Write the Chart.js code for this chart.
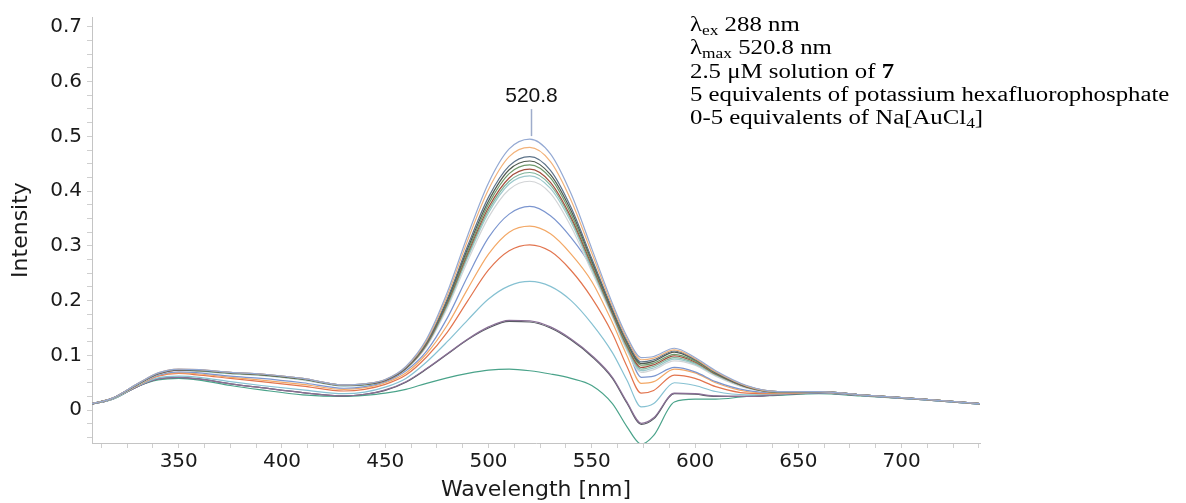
<!DOCTYPE html>
<html>
<head>
<meta charset="utf-8">
<title>Emission titration</title>
<script src="https://cdn.jsdelivr.net/npm/chart.js@4.4.0/dist/chart.umd.min.js"></script>
<style>
  body { margin: 0; background: #fff; }
  #wrap { position: relative; width: 1186px; height: 503px; }
  #conditions {
    position: absolute; left: 690px; top: 13px;
    font-family: "Liberation Serif", "Times New Roman", serif;
    font-size: 20px; line-height: 23.3px; color: #000; white-space: nowrap;
    transform: scaleX(1.24); transform-origin: 0 0;
  }
  #conditions sub { font-size: 14px; vertical-align: -4px; line-height: 0; }
</style>
</head>
<body>
<div id="wrap">
  <canvas id="spectra" width="1186" height="503"></canvas>
  <div id="conditions">
    <div>λ<sub>ex</sub> 288 nm</div>
    <div>λ<sub>max</sub> 520.8 nm</div>
    <div>2.5 μM solution of <b>7</b></div>
    <div>5 equivalents of potassium hexafluorophosphate</div>
    <div>0-5 equivalents of Na[AuCl<sub>4</sub>]</div>
  </div>
</div>
<script>
// emission wavelengths (nm)
var wavelengths = [308, 318, 330, 340, 350, 360, 375, 390, 410, 430,
                   440, 450, 460, 470, 480, 490, 500, 510, 520, 530, 540, 550, 560, 567, 574, 580,
                   590, 600, 610, 625, 640, 660, 680, 710, 738];

// intensity of each titration step, 0 -> 5 equivalents
var step01 = [0.012, 0.022, 0.048, 0.068, 0.075, 0.074, 0.069, 0.066, 0.058, 0.046,
              0.048, 0.056, 0.080, 0.130, 0.215, 0.320, 0.415, 0.477, 0.495, 0.468, 0.395, 0.295, 0.195, 0.135, 0.096, 0.098,
              0.113, 0.096, 0.072, 0.045, 0.034, 0.034, 0.028, 0.020, 0.012];
var step02 = [0.012, 0.022, 0.048, 0.068, 0.075, 0.074, 0.069, 0.066, 0.058, 0.046,
              0.048, 0.056, 0.079, 0.127, 0.209, 0.311, 0.403, 0.463, 0.480, 0.454, 0.383, 0.287, 0.190, 0.131, 0.092, 0.095,
              0.110, 0.094, 0.070, 0.044, 0.034, 0.034, 0.028, 0.020, 0.012];
var step03 = [0.012, 0.022, 0.048, 0.067, 0.074, 0.073, 0.069, 0.066, 0.058, 0.046,
              0.048, 0.055, 0.078, 0.124, 0.203, 0.301, 0.389, 0.446, 0.463, 0.438, 0.370, 0.277, 0.185, 0.127, 0.088, 0.092,
              0.108, 0.093, 0.069, 0.044, 0.034, 0.034, 0.028, 0.020, 0.012];
var step04 = [0.012, 0.022, 0.047, 0.067, 0.074, 0.073, 0.068, 0.065, 0.057, 0.046,
              0.047, 0.055, 0.077, 0.123, 0.200, 0.296, 0.382, 0.439, 0.455, 0.430, 0.364, 0.273, 0.182, 0.124, 0.085, 0.089,
              0.106, 0.092, 0.068, 0.043, 0.034, 0.034, 0.028, 0.020, 0.012];
var step05 = [0.012, 0.022, 0.047, 0.067, 0.074, 0.072, 0.068, 0.065, 0.057, 0.045,
              0.047, 0.055, 0.077, 0.122, 0.198, 0.291, 0.376, 0.432, 0.448, 0.424, 0.358, 0.269, 0.180, 0.121, 0.082, 0.086,
              0.102, 0.090, 0.067, 0.043, 0.033, 0.034, 0.028, 0.020, 0.012];
var step06 = [0.012, 0.022, 0.047, 0.066, 0.073, 0.072, 0.068, 0.065, 0.057, 0.045,
              0.047, 0.054, 0.076, 0.120, 0.195, 0.287, 0.370, 0.424, 0.440, 0.416, 0.352, 0.265, 0.177, 0.118, 0.078, 0.083,
              0.099, 0.088, 0.066, 0.042, 0.033, 0.034, 0.028, 0.020, 0.012];
var step07 = [0.012, 0.021, 0.047, 0.066, 0.073, 0.072, 0.067, 0.064, 0.056, 0.045,
              0.046, 0.054, 0.076, 0.119, 0.192, 0.283, 0.365, 0.418, 0.434, 0.411, 0.348, 0.261, 0.175, 0.115, 0.075, 0.080,
              0.096, 0.086, 0.065, 0.042, 0.033, 0.034, 0.028, 0.020, 0.012];
var step08 = [0.012, 0.021, 0.046, 0.066, 0.073, 0.071, 0.067, 0.064, 0.056, 0.044,
              0.046, 0.054, 0.075, 0.118, 0.190, 0.279, 0.360, 0.413, 0.428, 0.405, 0.343, 0.258, 0.173, 0.112, 0.072, 0.077,
              0.093, 0.084, 0.064, 0.041, 0.033, 0.034, 0.028, 0.020, 0.012];
var step09 = [0.012, 0.021, 0.046, 0.065, 0.072, 0.071, 0.066, 0.063, 0.055, 0.044,
              0.046, 0.054, 0.075, 0.116, 0.186, 0.273, 0.352, 0.403, 0.418, 0.396, 0.335, 0.253, 0.170, 0.109, 0.069, 0.074,
              0.090, 0.082, 0.062, 0.040, 0.033, 0.034, 0.028, 0.020, 0.012];
var step10 = [0.012, 0.021, 0.046, 0.064, 0.070, 0.068, 0.062, 0.058, 0.050, 0.040,
              0.043, 0.052, 0.072, 0.108, 0.168, 0.245, 0.315, 0.358, 0.372, 0.355, 0.315, 0.260, 0.175, 0.115, 0.060, 0.062,
              0.078, 0.070, 0.052, 0.036, 0.032, 0.033, 0.028, 0.020, 0.012];
var step11 = [0.012, 0.021, 0.045, 0.063, 0.068, 0.066, 0.060, 0.055, 0.047, 0.038,
              0.041, 0.050, 0.068, 0.103, 0.155, 0.222, 0.285, 0.325, 0.336, 0.322, 0.285, 0.235, 0.160, 0.100, 0.049, 0.052,
              0.075, 0.068, 0.050, 0.034, 0.031, 0.033, 0.028, 0.020, 0.012];
var step12 = [0.012, 0.021, 0.045, 0.062, 0.067, 0.064, 0.058, 0.052, 0.044, 0.035,
              0.038, 0.047, 0.064, 0.097, 0.142, 0.200, 0.256, 0.291, 0.302, 0.290, 0.255, 0.205, 0.140, 0.080, 0.031, 0.036,
              0.064, 0.058, 0.043, 0.031, 0.030, 0.033, 0.028, 0.020, 0.012];
var step13 = [0.012, 0.020, 0.044, 0.059, 0.062, 0.060, 0.052, 0.045, 0.037, 0.030,
              0.033, 0.042, 0.058, 0.088, 0.125, 0.165, 0.203, 0.227, 0.235, 0.226, 0.200, 0.158, 0.105, 0.055, 0.006, 0.012,
              0.050, 0.045, 0.034, 0.028, 0.029, 0.032, 0.027, 0.019, 0.011];
var step14 = [0.011, 0.020, 0.043, 0.057, 0.060, 0.057, 0.048, 0.041, 0.032, 0.026,
              0.029, 0.037, 0.052, 0.076, 0.103, 0.130, 0.152, 0.164, 0.163, 0.152, 0.130, 0.100, 0.060, 0.015, -0.024, -0.014,
              0.031, 0.030, 0.026, 0.025, 0.028, 0.031, 0.027, 0.019, 0.011];
var step15 = [0.011, 0.020, 0.043, 0.057, 0.060, 0.057, 0.048, 0.041, 0.032, 0.026,
              0.029, 0.036, 0.051, 0.075, 0.102, 0.129, 0.150, 0.162, 0.161, 0.150, 0.128, 0.098, 0.058, 0.013, -0.026, -0.016,
              0.030, 0.029, 0.025, 0.025, 0.028, 0.031, 0.027, 0.019, 0.011];
var step16 = [0.011, 0.020, 0.043, 0.055, 0.058, 0.055, 0.045, 0.037, 0.028, 0.025,
              0.027, 0.031, 0.038, 0.049, 0.059, 0.067, 0.073, 0.075, 0.072, 0.066, 0.058, 0.045, 0.012, -0.030, -0.062, -0.046,
              0.015, 0.020, 0.020, 0.025, 0.027, 0.030, 0.026, 0.019, 0.011];

var steps = [step01, step02, step03, step04, step05, step06, step07, step08,
             step09, step10, step11, step12, step13, step14, step15, step16];
var stepColors = ['#94a9d3', '#f2b27a', '#5d7389', '#4f5a4f', '#6f9a6a', '#a34d3c', '#7fb49a', '#9cc9cc',
                  '#d2d4d6', '#7b95cf', '#f3a866', '#e2744e', '#86c1d2', '#8a6f96', '#555a60', '#4aa38a'];

var peakWavelength = 520.8;

var datasets = steps.map(function (vals, i) {
    return {
        data: wavelengths.map(function (w, j) { return {x: w, y: vals[j]}; }),
        borderColor: stepColors[i],
        borderWidth: 1.2,
        pointRadius: 0,
        cubicInterpolationMode: 'monotone',
        fill: false
    };
});

// λmax marker above the most intense spectrum
var peakLabel = {
    id: 'peakLabel',
    afterDatasetsDraw: function (chart) {
        var ctx = chart.ctx;
        var x = chart.scales.x, y = chart.scales.y;
        var top = Math.max.apply(null, step01);
        var px = Math.round(x.getPixelForValue(peakWavelength)) + 0.5;
        var py = y.getPixelForValue(top);
        ctx.save();
        ctx.strokeStyle = '#9eaccb';
        ctx.lineWidth = 1.5;
        ctx.beginPath();
        ctx.moveTo(px, py - 3);
        ctx.lineTo(px, py - 30);
        ctx.stroke();
        ctx.fillStyle = '#111';
        ctx.font = '21px "Liberation Sans", Arial, sans-serif';
        ctx.textAlign = 'center';
        ctx.textBaseline = 'alphabetic';
        ctx.fillText(peakWavelength.toFixed(1), px, py - 37);
        ctx.restore();
    }
};

var tickFont = {family: '"DejaVu Sans", Verdana, sans-serif', size: 20};
var titleFont = {family: '"DejaVu Sans", Verdana, sans-serif', size: 22};

new Chart(document.getElementById('spectra').getContext('2d'), {
    type: 'line',
    data: {datasets: datasets},
    options: {
        responsive: false,
        animation: false,
        layout: {padding: {left: 0, right: 206, top: 15, bottom: 0}},
        plugins: {legend: {display: false}, tooltip: {enabled: false}},
        scales: {
            x: {
                type: 'linear',
                min: 308,
                max: 738,
                afterFit: function (s) { s.height = 60; },
                grid: {drawOnChartArea: false, tickLength: 5, color: '#cfcfcf'},
                border: {color: '#c4c4c4'},
                ticks: {
                    stepSize: 12.5, includeBounds: false, autoSkip: false, maxRotation: 0,
                    maxTicksLimit: 100, padding: 2, color: '#1a1a1a', font: tickFont,
                    callback: function (v) { return v % 50 === 0 ? String(v) : ''; }
                },
                title: {display: true, text: 'Wavelength [nm]', color: '#1a1a1a', font: titleFont, padding: {top: 0, bottom: 0}}
            },
            y: {
                min: -0.06,
                max: 0.718,
                afterFit: function (s) { s.width = 92; },
                grid: {drawOnChartArea: false, tickLength: 5, color: '#cfcfcf'},
                border: {color: '#c4c4c4'},
                ticks: {
                    stepSize: 0.025, includeBounds: false, autoSkip: false,
                    maxTicksLimit: 100, padding: 5, color: '#1a1a1a', font: tickFont,
                    callback: function (v) {
                        var r = Math.round(v * 10);
                        return Math.abs(v * 10 - r) < 1e-6 ? String(r / 10) : '';
                    }
                },
                title: {display: true, text: 'Intensity', color: '#1a1a1a', font: titleFont, padding: {top: 8, bottom: 0}}
            }
        }
    },
    plugins: [peakLabel]
});
</script>
</body>
</html>
